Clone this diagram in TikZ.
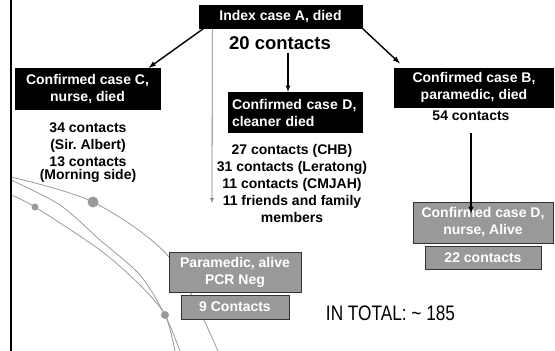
\documentclass[tikz,border=0pt]{standalone}
\usepackage{fontspec}
\setmainfont{Liberation Sans}
\usetikzlibrary{arrows, positioning}
\definecolor{boxgray}{HTML}{999999}
\definecolor{edgegray}{HTML}{333333}
\definecolor{arcgray}{HTML}{9A9A9A}
\tikzset{
  darkbox/.style={fill=black, text=white, align=center, inner sep=0pt,
    font=\fontsize{14}{17}\selectfont\bfseries},
  greybox/.style={fill=boxgray, draw=edgegray, line width=0.9pt, text=white,
    align=center, inner sep=0pt, font=\fontsize{14}{17}\selectfont\bfseries},
  count/.style={align=center, inner sep=0pt, font=\fontsize{14}{17}\selectfont\bfseries},
  arcline/.style={draw=arcgray, line width=0.8pt},
  link/.style={->, line width=1.4pt},
}

\begin{document}
\begin{tikzpicture}[x=1pt,y=-1pt,>=latex]
\useasboundingbox (0,0) rectangle (555,351);
% decoration in the background
\draw[arcline] plot[smooth] coordinates {(11,177) (93,202) (169,257) (218,351)};
\draw[arcline] plot[smooth] coordinates {(11,180) (60,205) (100,240) (140,275) (165,315) (180,351)};
\draw[arcline] plot[smooth] coordinates {(11,195) (35,207) (100,250) (140,285) (165,315) (175,351)};
\fill[arcgray] (93,202) circle (5.5pt);
\fill[arcgray] (35,207) circle (3.5pt);
\fill[arcgray] (165,315) circle (4pt);
\draw[line width=1.5pt] (11,0) -- (11,351);

% cases
\node[darkbox, minimum width=164pt, minimum height=24pt] (casea) at (280.5,16.5) {Index case A, died};
\node[count, font=\fontsize{18.5}{21}\selectfont\bfseries] (twenty) at (280,43) {20 contacts};
\node[darkbox, minimum width=146pt, minimum height=42pt] (casec) at (87.5,89) {Confirmed case C,\\nurse, died};
\node[darkbox, align=left, text width=127pt, inner xsep=4pt, minimum height=41pt] (cased) at (295.5,112.5) {Confirmed case D,\\cleaner died};
\node[darkbox, minimum width=160pt, minimum height=40pt] (caseb) at (474,87.5) {Confirmed case B,\\paramedic, died};

% contacts
\node[count, anchor=north] (cnum) at (88,123) {34 contacts\\(Sir.\ Albert)\\13 contacts\\[-4pt](Morning side)};
\node[count, anchor=north] (dnum) at (292,144) {27 contacts (CHB)\\31 contacts (Leratong)\\11 contacts (CMJAH)\\11 friends and family\\members};
\node[count] (bnum) at (471,116) {54 contacts};

% alive cases
\node[greybox, minimum width=140pt, minimum height=41pt] (dalive) at (483,222.5) {Confirmed case D,\\nurse, Alive};
\node[greybox, minimum width=116pt, minimum height=23pt] (dalivenum) at (483,257.5) {22 contacts};
\node[greybox, minimum width=132pt, minimum height=40pt] (medic) at (235,272) {Paramedic, alive\\PCR Neg};
\node[greybox, minimum width=108pt, minimum height=24pt] (medicnum) at (235,307) {9 Contacts};

\node[inner sep=0pt, font=\fontsize{21}{25}\selectfont] (total) at (390.5,313) {\scalebox{0.82}[1]{IN TOTAL: \textasciitilde{} 185}};

% links
\coordinate (dend) at (212,203);
\draw[link] ([xshift=5pt]casea.south west) -- ([xshift=-12pt]casec.north east);
\draw[link] (casea.south east) -- ([xshift=6pt,yshift=4pt]caseb.north west);
\draw[->, line width=0.8pt, gray] ([xshift=14pt]casea.south west) -- (dend);
\draw[->, line width=1.1pt] ([xshift=8pt,yshift=-3pt]twenty.south) -- ([xshift=8pt]twenty.south |- cased.north);
\draw[->, line width=1.4pt] ([yshift=-12pt]bnum.south) -- ([yshift=-12pt]bnum.south |- dalive.north);
\end{tikzpicture}
\end{document}
